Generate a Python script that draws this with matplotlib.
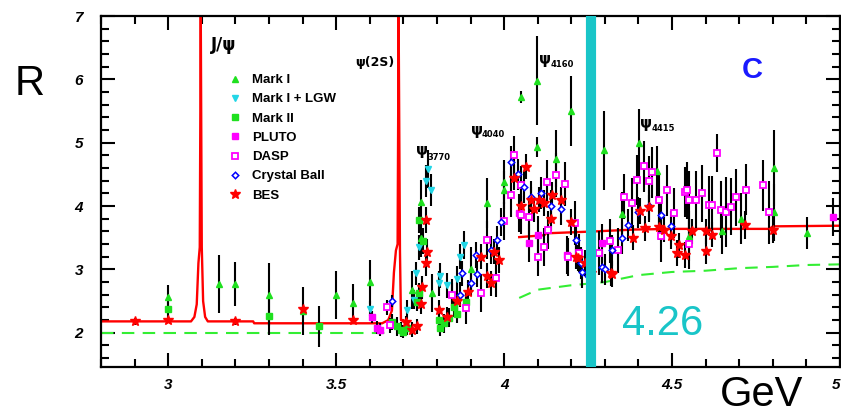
import matplotlib
matplotlib.use("Agg")
import matplotlib.pyplot as plt
from matplotlib.ticker import FixedLocator, MultipleLocator
from matplotlib.font_manager import FontProperties

# ---------------- measurements: R ratio vs. centre-of-mass energy (GeV) ----------------
mark1_E = [3.00, 3.15, 3.20, 3.30, 3.40, 3.50, 3.55, 3.60, 3.727, 3.753, 3.753, 3.786, 3.90, 3.95,
           4.00, 4.00, 4.05, 4.098, 4.098, 4.155, 4.20, 4.298, 4.352, 4.402, 4.456, 4.55, 4.65,
           4.705, 4.804, 4.804, 4.902]
mark1_R = [2.57, 2.77, 2.77, 2.60, 2.35, 2.60, 2.47, 2.80, 2.68, 4.06, 3.50, 2.63, 3.00, 4.05,
           4.38, 4.25, 5.72, 5.98, 4.93, 4.75, 5.50, 4.88, 3.87, 4.99, 4.55, 3.53, 3.60,
           3.80, 4.60, 3.90, 3.57]
mark1_err = [0.18, 0.45, 0.35, 0.50, 0.38, 0.38, 0.30, 0.35, 0.30, 0.35, 0.30, 0.30, 0.35, 0.40,
             0.35, 0.30, 0.10, 0.70, 0.16, 0.45, 0.55, 0.62, 0.35, 0.55, 0.40, 0.40, 0.35,
             0.40, 0.60, 0.45, 0.25]

lgw_E = [3.600, 3.711, 3.732, 3.738, 3.747, 3.769, 3.774, 3.783, 3.806, 3.810, 3.830, 3.845,
         3.860, 3.870, 3.881]
lgw_R = [2.38, 2.36, 2.52, 2.94, 3.35, 4.40, 4.58, 4.25, 2.78, 2.90, 2.75, 2.60, 2.85, 3.20, 3.39]
lgw_err = [0.12, 0.15, 0.15, 0.18, 0.20, 0.25, 0.30, 0.25, 0.20, 0.20, 0.20, 0.18, 0.20, 0.20, 0.22]

mark2_E = [3.00, 3.30, 3.45, 3.667, 3.680, 3.693, 3.700, 3.710, 3.740, 3.747, 3.747, 3.760,
           3.806, 3.808, 3.820, 3.836, 3.850, 3.860, 3.887]
mark2_R = [2.37, 2.27, 2.10, 2.17, 2.10, 2.05, 2.02, 2.08, 2.49, 2.63, 3.78, 3.45,
           2.20, 2.07, 2.15, 2.24, 2.40, 2.30, 2.49]
mark2_err = [0.12, 0.30, 0.33, 0.12, 0.15, 0.12, 0.10, 0.12, 0.15, 0.15, 0.20, 0.20,
             0.15, 0.12, 0.15, 0.15, 0.15, 0.15, 0.15]

pluto_E = [3.607, 3.622, 3.630, 4.045, 4.074, 4.100, 4.188, 4.290, 4.980]
pluto_R = [2.25, 2.08, 2.05, 3.89, 3.41, 3.55, 3.23, 3.42, 3.83]
pluto_err = [0.10, 0.10, 0.10, 0.30, 0.30, 0.30, 0.30, 0.30, 0.30]

dasp_E = [3.650, 3.660, 3.845, 3.887, 3.930, 3.950, 3.976, 4.000, 4.020, 4.030, 4.050, 4.050,
          4.074, 4.100, 4.120, 4.128, 4.130, 4.155, 4.180, 4.190, 4.210, 4.223, 4.283, 4.316,
          4.340, 4.357, 4.380, 4.397, 4.417, 4.430, 4.440, 4.460, 4.466, 4.486, 4.506, 4.540,
          4.545, 4.550, 4.550, 4.570, 4.590, 4.610, 4.620, 4.634, 4.645, 4.660, 4.675, 4.690,
          4.720, 4.770, 4.790]
dasp_R = [2.40, 2.12, 2.60, 2.39, 2.63, 3.46, 2.87, 3.77, 4.17, 4.80, 4.33, 3.86,
          3.83, 3.20, 3.35, 4.38, 3.62, 4.49, 4.35, 3.20, 3.73, 3.26, 3.26, 3.45,
          3.30, 4.15, 4.05, 4.41, 4.63, 4.39, 4.53, 4.10, 3.52, 4.25, 3.89, 4.22,
          4.25, 4.10, 3.40, 4.10, 4.20, 4.02, 4.02, 4.83, 3.94, 3.91, 3.99, 4.14,
          4.26, 4.33, 3.90]
dasp_err = [0.12, 0.12, 0.25, 0.25, 0.30, 0.30, 0.30, 0.30, 0.35, 0.30, 0.30, 0.30,
            0.30, 0.30, 0.30, 0.35, 0.30, 0.35, 0.35, 0.30, 0.35, 0.30, 0.35, 0.35,
            0.35, 0.35, 0.40, 0.40, 0.40, 0.40, 0.40, 0.40, 0.40, 0.40, 0.40, 0.40,
            0.45, 0.45, 0.40, 0.45, 0.45, 0.45, 0.45, 0.30, 0.45, 0.55, 0.45, 0.45,
            0.40, 0.40, 0.50]

cb_E = [3.667, 3.870, 3.875, 3.900, 3.917, 3.920, 3.960, 3.980, 3.990, 4.020, 4.040, 4.060,
        4.080, 4.109, 4.140, 4.170, 4.214, 4.228, 4.233, 4.250, 4.290, 4.300, 4.320, 4.350,
        4.370, 4.400, 4.430, 4.467, 4.497]
cb_R = [2.50, 2.60, 2.94, 2.78, 3.23, 2.93, 3.30, 3.46, 3.75, 4.70, 4.50, 4.30,
        4.15, 4.21, 4.00, 3.95, 3.47, 3.10, 2.96, 2.90, 3.04, 3.00, 3.30, 3.50,
        3.70, 3.90, 4.00, 3.86, 3.68]
cb_err = [0.10, 0.20, 0.20, 0.20, 0.20, 0.20, 0.22, 0.22, 0.22, 0.25, 0.25, 0.25,
          0.25, 0.25, 0.25, 0.25, 0.25, 0.25, 0.25, 0.25, 0.25, 0.25, 0.25, 0.25,
          0.25, 0.25, 0.25, 0.25, 0.25]

bes_E = [2.90, 3.00, 3.20, 3.40, 3.55, 3.708, 3.727, 3.740, 3.753, 3.756, 3.768, 3.768,
         3.771, 3.806, 3.830, 3.860, 3.893, 3.930, 3.950, 3.960, 3.970, 3.985, 4.030, 4.050,
         4.065, 4.080, 4.090, 4.104, 4.120, 4.140, 4.143, 4.168, 4.200, 4.214, 4.220, 4.240,
         4.260, 4.318, 4.320, 4.385, 4.405, 4.420, 4.430, 4.460, 4.476, 4.497, 4.515, 4.520,
         4.540, 4.560, 4.600, 4.600, 4.620, 4.716, 4.800]
bes_R = [2.18, 2.20, 2.18, 2.37, 2.20, 2.17, 2.05, 2.10, 2.45, 2.72, 3.78, 3.10,
         3.28, 2.36, 2.25, 2.50, 2.65, 3.20, 2.90, 2.78, 3.28, 3.15, 4.45, 4.00,
         4.62, 4.10, 3.95, 4.10, 4.05, 3.80, 4.18, 4.10, 3.75, 3.20, 3.18, 3.10,
         2.95, 2.94, 2.93, 3.50, 3.92, 3.65, 3.98, 3.67, 3.63, 3.52, 3.26, 3.38,
         3.23, 3.60, 3.29, 3.60, 3.55, 3.70, 3.63]
bes_err = [0.05, 0.05, 0.05, 0.08, 0.05, 0.10, 0.12, 0.12, 0.15, 0.18, 0.20, 0.20,
           0.20, 0.15, 0.15, 0.15, 0.18, 0.20, 0.20, 0.20, 0.20, 0.20, 0.20, 0.20,
           0.20, 0.20, 0.20, 0.20, 0.20, 0.20, 0.20, 0.20, 0.20, 0.20, 0.20, 0.20,
           0.20, 0.20, 0.20, 0.20, 0.20, 0.20, 0.20, 0.20, 0.20, 0.20, 0.20, 0.20,
           0.20, 0.20, 0.20, 0.20, 0.20, 0.22, 0.22]

# resonance curve below 3.7 GeV (J/psi and psi(2S) spikes)
fit_lo_E = [2.80, 3.068, 3.078, 3.085, 3.090, 3.094, 3.097, 3.100, 3.104, 3.110, 3.118, 3.253,
            3.256, 3.637, 3.655, 3.666, 3.672, 3.678, 3.683, 3.686, 3.690, 3.693, 3.700]
fit_lo_R = [2.18, 2.18, 2.25, 2.45, 3.10, 3.35, 7.00, 3.35, 2.50, 2.25, 2.18, 2.18,
            2.15, 2.15, 2.20, 2.35, 2.95, 3.30, 3.40, 7.00, 3.30, 2.20, 2.20]
# smooth curve above the open-charm threshold
fit_hi_E = [4.045, 4.120, 4.125, 4.270, 4.390, 4.500, 4.790, 4.800, 5.000]
fit_hi_R = [3.51, 3.54, 3.57, 3.60, 3.63, 3.64, 3.64, 3.68, 3.69]

# light-quark (uds) continuum and uds+c continuum
cont_lo_E = [2.80, 3.667]
cont_lo_R = [2.00, 2.00]
cont_hi_E = [4.045, 4.10, 4.20, 4.30, 4.40, 4.50, 4.60, 4.70, 4.80, 4.90, 5.00]
cont_hi_R = [2.55, 2.68, 2.75, 2.80, 2.91, 2.96, 2.98, 3.02, 3.04, 3.07, 3.08]

x_ticks = [3.0, 3.5, 4.0, 4.5, 5.0]
x_tick_labels = ["3", "3.5", "4", "4.5", "5"]
y_ticks = [2, 3, 4, 5, 6, 7]
y_tick_labels = ["2", "3", "4", "5", "6", "7"]

marked_energy = 4.26

GREEN = "#1fe01f"
CYAN = "#22d6e6"
MAGENTA = "#ff00ff"
BLUE = "#0000ff"
RED = "#ff0000"
TEAL = "#19c5c8"

W, H = 841, 415
fig = plt.figure(figsize=(W / 100, H / 100), dpi=100)
ax = fig.add_axes([101 / W, (H - 367) / H, 739 / W, 351 / H])
ax.set_xlim(2.8, 5.0)
ax.set_ylim(1.46, 7.0)

# curves
ax.plot(cont_lo_E, cont_lo_R, color="#33ee33", lw=1.5, ls=(0, (6, 4)), zorder=2)
ax.plot(cont_hi_E, cont_hi_R, color="#33ee33", lw=1.5, ls=(0, (6, 4)), zorder=2)
ax.plot(fit_lo_E, fit_lo_R, color=RED, lw=1.7, zorder=2)
ax.plot(fit_hi_E, fit_hi_R, color=RED, lw=1.7, zorder=2)

series = [
    ("Mark I", mark1_E, mark1_R, mark1_err, dict(marker="^", ms=4.5, color=GREEN, mfc=GREEN, mec=GREEN)),
    ("Mark I + LGW", lgw_E, lgw_R, lgw_err, dict(marker="v", ms=5, color=CYAN, mfc=CYAN, mec=CYAN)),
    ("Mark II", mark2_E, mark2_R, mark2_err, dict(marker="s", ms=4.5, color=GREEN, mfc=GREEN, mec=GREEN)),
    ("PLUTO", pluto_E, pluto_R, pluto_err, dict(marker="s", ms=4.2, color=MAGENTA, mfc=MAGENTA, mec=MAGENTA)),
    ("DASP", dasp_E, dasp_R, dasp_err, dict(marker="s", ms=5, color=MAGENTA, mfc="white", mec=MAGENTA, mew=1.3)),
    ("Crystal Ball", cb_E, cb_R, cb_err, dict(marker="D", ms=3.3, color=BLUE, mfc="white", mec=BLUE, mew=1.1)),
    ("BES", bes_E, bes_R, bes_err, dict(marker="*", ms=7, color=RED, mfc=RED, mec=RED)),
]

# error bars first, so every marker sits on top of them
for name, e, r, err, style in series:
    ax.errorbar(e, r, yerr=err, fmt="none", ecolor="black", elinewidth=1.5, capsize=0, zorder=3)

handles = []
for name, e, r, err, style in series:
    ln, = ax.plot(e, r, ls="none", zorder=4, label=name, **style)
    handles.append(ln)

# highlighted energy
ax.axvline(marked_energy, ymin=0.011, ymax=0.986, color=TEAL, lw=7.3, zorder=6)

# axes styling
for s in ax.spines.values():
    s.set_linewidth(1.6)
ax.xaxis.set_major_locator(FixedLocator(x_ticks))
ax.xaxis.set_minor_locator(MultipleLocator(0.1))
ax.yaxis.set_major_locator(FixedLocator(y_ticks))
ax.yaxis.set_minor_locator(MultipleLocator(0.2))
ax.set_xticklabels(x_tick_labels)
ax.set_yticklabels(y_tick_labels)
ax.tick_params(which="both", direction="in", top=True, right=True, width=1.5)
ax.tick_params(which="major", length=10)
ax.tick_params(which="minor", length=5.5)
ax.tick_params(axis="x", which="major", pad=8)
ax.tick_params(axis="y", which="major", pad=13)
tick_font = FontProperties(family="Liberation Sans", weight="bold", style="italic", size=11)
for lab in ax.get_xticklabels() + ax.get_yticklabels():
    lab.set_fontproperties(tick_font)
# last energy label sits at the figure's right edge
ax.get_xticklabels()[-1].set_horizontalalignment("right")

# resonance labels
lab_font = dict(family="DejaVu Sans", weight="bold", color="black")
ax.text(3.164, 6.55, "J/ψ", fontsize=12, ha="center", va="center", **lab_font)
ax.text(3.616, 6.27, "ψ(2S)", fontsize=9, ha="center", va="center", **lab_font)
for (pe, pr, se, sr, sub) in [(3.756, 4.87, 3.807, 4.77, "3770"),
                               (3.920, 5.20, 3.967, 5.13, "4040"),
                               (4.122, 6.31, 4.173, 6.24, "4160"),
                               (4.423, 5.30, 4.473, 5.23, "4415")]:
    ax.text(pe, pr, "ψ", fontsize=11, ha="center", va="center", **lab_font)
    ax.text(se, sr, sub, fontsize=6, ha="center", va="center", **lab_font)

leg = ax.legend(handles=handles, loc="upper left",
                bbox_to_anchor=(228 / W, 1 - 74 / H), bbox_transform=fig.transFigure,
                frameon=False, borderpad=0, borderaxespad=0, handlelength=1.0,
                handletextpad=0.8, labelspacing=0.53,
                prop=FontProperties(family="Liberation Sans", weight="bold", size=9.5))
leg.set_zorder(7)

# annotations
big = dict(family="Liberation Sans")
fig.text(30 / W, 1 - 95 / H, "R", fontsize=30, ha="center", va="baseline", **big)
fig.text(762 / W, 1 - 406 / H, "GeV", fontsize=30, ha="center", va="baseline", **big)
fig.text(663 / W, 1 - 335 / H, "4.26", fontsize=30, ha="center", va="baseline", color=TEAL, **big)
fig.text(752 / W, 1 - 78 / H, "C", fontsize=21, ha="center", va="baseline",
         color="#1a1aff", weight="bold", **big)

fig.savefig("out.png", dpi=100)
